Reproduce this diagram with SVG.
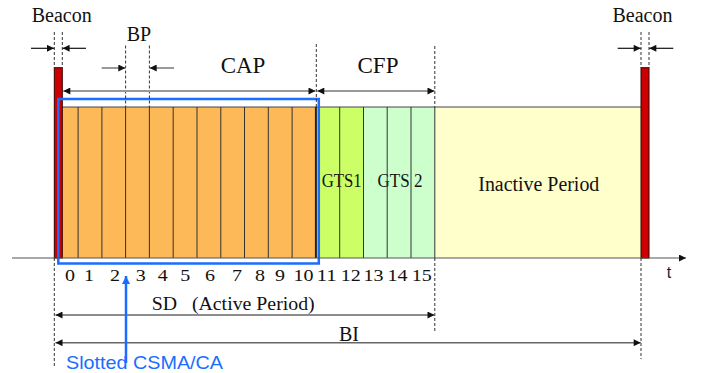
<svg xmlns="http://www.w3.org/2000/svg" width="702" height="373" viewBox="0 0 702 373">
<defs>
<style>
.serif{font-family:"Liberation Serif","Times New Roman",serif;fill:#111}
.sans{font-family:"Liberation Sans",Arial,sans-serif}
.slotline{stroke:#333;stroke-width:1}
.dash{stroke:#333;stroke-width:1;stroke-dasharray:3,2;fill:none}
.arrB{stroke:#111;stroke-width:1.2;fill:none}
.arrG{stroke:#999;stroke-width:2;fill:none}
.arrD{stroke:#666;stroke-width:1.5;fill:none}
</style>
<marker id="ah" viewBox="0 0 10 10" refX="10" refY="5" markerWidth="8" markerHeight="7" markerUnits="userSpaceOnUse" orient="auto-start-reverse">
<path d="M0,0 L10,5 L0,10 z" fill="#111"/>
</marker>
<marker id="ahBlue" viewBox="0 0 10 10" refX="10" refY="5" markerWidth="9" markerHeight="8" markerUnits="userSpaceOnUse" orient="auto">
<path d="M0,0 L10,5 L0,10 z" fill="#1a6dff"/>
</marker>
</defs>
<rect width="702" height="373" fill="#fff"/>

<g id="cap-slots">
<rect x="62.3" y="107" width="253.6" height="151" fill="#fdb858"/>
</g>
<g id="gts1">
<rect x="315.9" y="107" width="47.6" height="151" fill="#ccff66"/>
<text class="serif" x="341.7" y="187" font-size="18.5" text-anchor="middle" textLength="40" lengthAdjust="spacingAndGlyphs">GTS1</text>
</g>
<g id="gts2">
<rect x="363.5" y="107" width="71.3" height="151" fill="#ccffcc"/>
<text class="serif" x="400" y="187" font-size="18.5" text-anchor="middle" textLength="45" lengthAdjust="spacingAndGlyphs">GTS 2</text>
</g>
<g id="inactive">
<rect x="434.8" y="107" width="206.2" height="151" fill="#ffffcc"/>
<text class="serif" x="538.8" y="190.7" font-size="20" text-anchor="middle" textLength="121" lengthAdjust="spacingAndGlyphs">Inactive Period</text>
</g>

<g id="slot-lines">
<line x1="62" y1="107" x2="641" y2="107" stroke="#444" stroke-width="1"/>
<line class="slotline" x1="78.1" y1="107" x2="78.1" y2="258"/>
<line class="slotline" x1="101.9" y1="107" x2="101.9" y2="258"/>
<line class="slotline" x1="125.6" y1="107" x2="125.6" y2="258"/>
<line class="slotline" x1="149.4" y1="107" x2="149.4" y2="258"/>
<line class="slotline" x1="173.2" y1="107" x2="173.2" y2="258"/>
<line class="slotline" x1="197" y1="107" x2="197" y2="258"/>
<line class="slotline" x1="220.8" y1="107" x2="220.8" y2="258"/>
<line class="slotline" x1="244.5" y1="107" x2="244.5" y2="258"/>
<line class="slotline" x1="268.3" y1="107" x2="268.3" y2="258"/>
<line class="slotline" x1="292.1" y1="107" x2="292.1" y2="258"/>
<line x1="315.9" y1="107" x2="315.9" y2="258" stroke="#222" stroke-width="2"/>
<line class="slotline" x1="339.7" y1="107" x2="339.7" y2="258"/>
<line class="slotline" x1="363.5" y1="107" x2="363.5" y2="258"/>
<line class="slotline" x1="387.2" y1="107" x2="387.2" y2="258"/>
<line class="slotline" x1="411" y1="107" x2="411" y2="258"/>
<line class="slotline" x1="434.8" y1="107" x2="434.8" y2="258"/>
</g>

<g id="beacon-left">
<rect x="54.3" y="67.7" width="8" height="190.3" fill="#cc0000" stroke="#330000" stroke-width="1"/>
<text class="serif" x="61.7" y="21.5" font-size="20" text-anchor="middle" textLength="60" lengthAdjust="spacingAndGlyphs">Beacon</text>
</g>
<g id="beacon-right">
<rect x="641" y="67.7" width="8" height="190.3" fill="#cc0000" stroke="#330000" stroke-width="1"/>
<text class="serif" x="642.5" y="21.5" font-size="20" text-anchor="middle" textLength="60" lengthAdjust="spacingAndGlyphs">Beacon</text>
</g>

<g id="blue-box">
<rect x="58.3" y="99" width="260.5" height="164.5" fill="none" stroke="#1a6dff" stroke-width="2.5"/>
</g>

<g id="labels">
<text class="serif" x="139" y="41" font-size="20" text-anchor="middle">BP</text>
<text class="serif" x="243" y="73" font-size="23" text-anchor="middle">CAP</text>
<text class="serif" x="378" y="73" font-size="23" text-anchor="middle">CFP</text>
<g class="serif" font-size="17" text-anchor="middle">
<text x="70" y="281" textLength="10" lengthAdjust="spacingAndGlyphs">0</text>
<text x="89" y="281" textLength="10" lengthAdjust="spacingAndGlyphs">1</text>
<text x="115" y="281" textLength="10" lengthAdjust="spacingAndGlyphs">2</text>
<text x="140.7" y="281" textLength="10" lengthAdjust="spacingAndGlyphs">3</text>
<text x="162.7" y="281" textLength="10" lengthAdjust="spacingAndGlyphs">4</text>
<text x="185.3" y="281" textLength="10" lengthAdjust="spacingAndGlyphs">5</text>
<text x="210" y="281" textLength="10" lengthAdjust="spacingAndGlyphs">6</text>
<text x="237" y="281" textLength="10" lengthAdjust="spacingAndGlyphs">7</text>
<text x="260" y="281" textLength="10" lengthAdjust="spacingAndGlyphs">8</text>
<text x="280" y="281" textLength="10" lengthAdjust="spacingAndGlyphs">9</text>
<text x="303.5" y="281" textLength="20" lengthAdjust="spacingAndGlyphs">10</text>
<text x="326.7" y="281" textLength="20" lengthAdjust="spacingAndGlyphs">11</text>
<text x="350.7" y="281" textLength="20" lengthAdjust="spacingAndGlyphs">12</text>
<text x="373.5" y="281" textLength="20" lengthAdjust="spacingAndGlyphs">13</text>
<text x="397.5" y="281" textLength="20" lengthAdjust="spacingAndGlyphs">14</text>
<text x="421.7" y="281" textLength="20" lengthAdjust="spacingAndGlyphs">15</text>
</g>
<text class="serif" x="151.7" y="310" font-size="19" xml:space="preserve" textLength="163" lengthAdjust="spacingAndGlyphs">SD   (Active Period)</text>
<text class="serif" x="349" y="341" font-size="20" text-anchor="middle">BI</text>
<text class="sans" x="669" y="278" font-size="16" fill="#222" text-anchor="middle">t</text>
<text class="sans" x="66" y="369" font-size="19" fill="#1a6dff" textLength="157" lengthAdjust="spacingAndGlyphs">Slotted CSMA/CA</text>
</g>

<g id="connectors">
<line x1="12" y1="258" x2="686" y2="258" stroke="#555" stroke-width="1.2" marker-end="url(#ah)"/>
<line class="dash" x1="54.3" y1="32" x2="54.3" y2="67.7"/>
<line class="dash" x1="62.3" y1="32" x2="62.3" y2="67.7"/>
<line class="dash" x1="641" y1="32" x2="641" y2="67.7"/>
<line class="dash" x1="649" y1="32" x2="649" y2="67.7"/>
<line class="dash" x1="125.6" y1="45.5" x2="125.6" y2="107"/>
<line class="dash" x1="149.4" y1="45.5" x2="149.4" y2="107"/>
<line class="dash" x1="316.3" y1="44" x2="316.3" y2="107"/>
<line class="dash" x1="434.8" y1="46" x2="434.8" y2="107"/>
<line class="dash" x1="54.3" y1="258" x2="54.3" y2="366"/>
<line class="dash" x1="434.8" y1="258" x2="434.8" y2="331"/>
<line class="dash" x1="641" y1="258" x2="641" y2="359"/>
<line class="arrB" x1="31" y1="48.3" x2="54" y2="48.3" marker-end="url(#ah)"/>
<line class="arrB" x1="86" y1="48.3" x2="62.6" y2="48.3" marker-end="url(#ah)"/>
<line class="arrB" x1="617.7" y1="48.3" x2="640.7" y2="48.3" marker-end="url(#ah)"/>
<line class="arrB" x1="673.3" y1="48.3" x2="649.3" y2="48.3" marker-end="url(#ah)"/>
<line class="arrG" x1="101.7" y1="68" x2="125.3" y2="68" marker-end="url(#ah)"/>
<line class="arrG" x1="174" y1="68" x2="149.7" y2="68" marker-end="url(#ah)"/>
<line class="arrG" x1="63.3" y1="91" x2="315.5" y2="91" marker-start="url(#ah)" marker-end="url(#ah)"/>
<line class="arrG" x1="317.3" y1="91" x2="434.5" y2="91" marker-start="url(#ah)" marker-end="url(#ah)"/>
<line class="arrD" x1="55.5" y1="315" x2="434.5" y2="315" marker-start="url(#ah)" marker-end="url(#ah)"/>
<line class="arrD" x1="55.5" y1="342.7" x2="640.7" y2="342.7" marker-start="url(#ah)" marker-end="url(#ah)"/>
<line x1="126" y1="363" x2="126" y2="276" stroke="#1a6dff" stroke-width="2.5" marker-end="url(#ahBlue)"/>
</g>
</svg>
